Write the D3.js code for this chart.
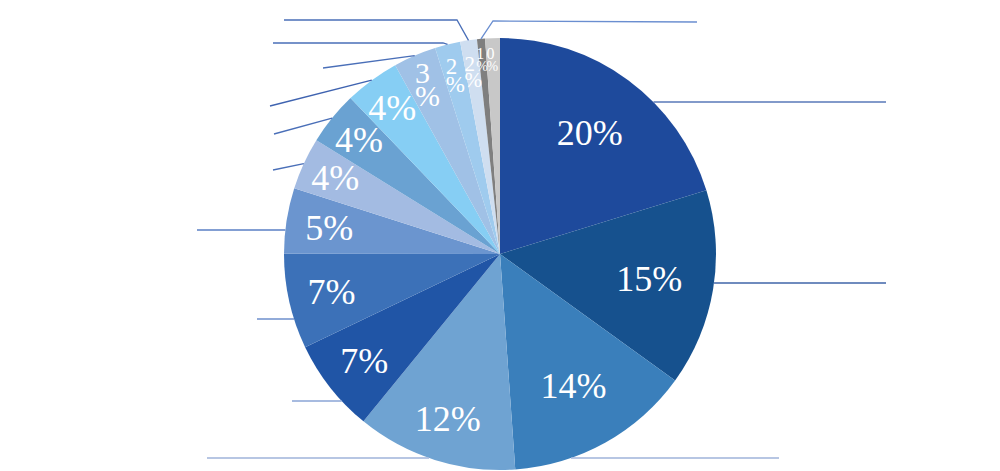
<!DOCTYPE html>
<html>
<head>
<meta charset="utf-8">
<script src="https://cdn.jsdelivr.net/npm/d3@7"></script>
<style>
  body { margin: 0; background: #fff; }
  svg { display: block; }
</style>
</head>
<body>
<svg id="chart"></svg>
<script>
// slice shares (clockwise from 12 o'clock)
const shares = [20.2, 14.7, 13.9, 12.0, 7.0, 7.1, 4.9, 3.9, 4.0, 4.1, 3.2, 1.9, 1.25, 0.6, 1.1];
const pctLabels = ["20%", "15%", "14%", "12%", "7%", "7%", "5%", "4%", "4%", "4%", "3%", "2%", "2%", "1%", "0%"];
const sliceColors = ["#1e4a9c", "#16518e", "#3a7fbb", "#6fa3d2", "#2055a6", "#3c71b8", "#6b95cf",
  "#a3bbe2", "#6aa2d2", "#86cef4", "#a0c1e6", "#9fcbee", "#cfdef0", "#7f7f7f", "#c8c8c8"];

const width = 1000;
const height = 471;
const cx = 500, cy = 254, radius = 216;

// leader lines of the (blank) category labels: far end, optional elbow, then to the slice
const leaders = [
  { i: 0, pts: [[886, 102]], mode: "h", color: "#5878b8" },
  { i: 1, pts: [[886, 283]], mode: "h", color: "#3f64a8" },
  { i: 2, pts: [[779, 458]], mode: "h", color: "#9fb3da" },
  { i: 3, pts: [[207, 458]], mode: "h", color: "#9fb3da" },
  { i: 4, pts: [[292, 401]], mode: "h", color: "#8aa5d6" },
  { i: 5, pts: [[257, 319]], mode: "h", color: "#6e8fcc" },
  { i: 6, pts: [[197, 230]], mode: "h", color: "#5a7fc4" },
  { i: 7, pts: [[273, 170]], mode: "mid", color: "#4a6fb8" },
  { i: 8, pts: [[274, 134]], mode: "mid", color: "#4a6fb8" },
  { i: 9, pts: [[270, 106]], mode: "mid", color: "#3f63b0" },
  { i: 10, pts: [[323, 68]], mode: "mid", color: "#4a6fb8" },
  { i: 11, pts: [[273, 43], [443, 43]], mode: "mid", color: "#4a6fb8" },
  { i: 12, pts: [[284, 20], [457, 20]], mode: "mid", color: "#4a6fb8" },
  { i: 13, pts: [[697, 22], [493, 21]], mode: "mid", color: "#6a8ed0" }
];

const svg = d3.select("#chart")
  .attr("width", width)
  .attr("height", height);

const pie = d3.pie().sort(null).value(d => d);
const arcs = pie(shares);
const arc = d3.arc().innerRadius(0).outerRadius(radius);

const g = svg.append("g").attr("transform", `translate(${cx},${cy})`);

g.selectAll("path")
  .data(arcs)
  .join("path")
  .attr("d", arc)
  .attr("fill", (d, i) => sliceColors[i]);

function edgePoint(a) {
  return [cx + radius * Math.sin(a), cy - radius * Math.cos(a)];
}

// leader lines
const line = d3.line();
leaders.forEach(l => {
  const a = arcs[l.i];
  const last = l.pts[l.pts.length - 1];
  let end;
  if (l.mode === "h") {
    const dy = last[1] - cy;
    const dx = Math.sqrt(radius * radius - dy * dy);
    end = [cx + (last[0] > cx ? dx : -dx), last[1]];
  } else {
    end = edgePoint((a.startAngle + a.endAngle) / 2);
  }
  svg.append("path")
    .attr("d", line(l.pts.concat([end])))
    .attr("fill", "none")
    .attr("stroke", l.color)
    .attr("stroke-width", 1.3);
});

// percentage labels
const labelFont = "'Liberation Serif', 'DejaVu Serif', serif";
arcs.forEach((a, i) => {
  const share = shares[i];
  const mid = (a.startAngle + a.endAngle) / 2;
  let frac;
  if (share >= 13) frac = 0.7;
  else if (share >= 4.5) frac = 0.8;
  else if (share >= 3.5) frac = 0.84;
  else if (share >= 1.2) frac = 0.85;
  else frac = 0.9;
  const [x, y] = [cx + radius * frac * Math.sin(mid), cy - radius * frac * Math.cos(mid)];

  if (share >= 3.5) {
    svg.append("text")
      .attr("x", x)
      .attr("y", y)
      .attr("dy", "0.34em")
      .attr("text-anchor", "middle")
      .attr("fill", "#fff")
      .style("font-family", labelFont)
      .style("font-size", "36px")
      .text(pctLabels[i]);
  } else {
    // narrow slices: number above the % sign, left aligned
    const small = share < 1.2;
    const fs = small ? 16 : share >= 2.5 ? 30 : share >= 1.5 ? 23 : 21;
    const lh = small ? 12 : Math.round(fs * 0.78);
    const num = pctLabels[i].replace("%", "");
    const t = svg.append("text")
      .attr("fill", "#fff")
      .style("font-family", labelFont)
      .style("font-size", fs + "px");
    const pct = t.append("tspan").attr("x", 0).attr("y", 0).text("%");
    const w = pct.node().getComputedTextLength();
    pct.remove();
    const left = x - w / 2;
    const top = y - lh / 2;
    t.append("tspan").attr("x", left).attr("y", top + fs * 0.32).text(num);
    t.append("tspan").attr("x", left).attr("y", top + lh + fs * 0.32)
      .style("font-size", (small ? 14 : fs) + "px").text("%");
  }
});
</script>
</body>
</html>
